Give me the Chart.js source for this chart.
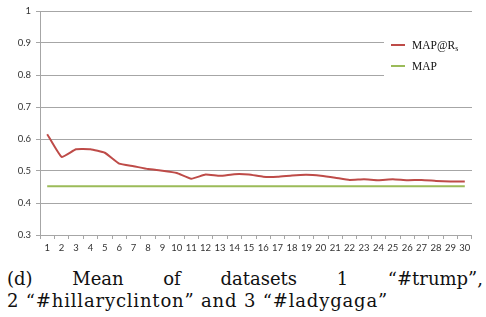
<!DOCTYPE html>
<html>
<head>
<meta charset="utf-8">
<script src="https://cdn.jsdelivr.net/npm/chart.js@4"></script>
<style>
  body { margin: 0; background: #fff; width: 486px; height: 317px; overflow: hidden; }
  #wrap { position: relative; width: 486px; height: 258px; }
  .caption { font-family: "DejaVu Serif", serif; font-size: 18px; color: #111; margin: 0 3px 0 7px; line-height: 22px; white-space: nowrap; }
  .l1 { text-align: justify; text-align-last: justify; margin-top: 10px; white-space: normal; }
  #l2 span { display: inline-block; }
</style>
</head>
<body>
<div id="wrap"><canvas id="grafico" width="486" height="258"></canvas></div>
<div class="caption l1">(d) Mean of datasets 1 “#trump”,</div>
<div class="caption" id="l2"><span id="l2txt">2 “#hillaryclinton” and 3 “#ladygaga”</span></div>
<script>
// Dados do gráfico
const rotulos = ['1','2','3','4','5','6','7','8','9','10','11','12','13','14','15','16','17','18','19','20','21','22','23','24','25','26','27','28','29','30'];
const mapRs = [0.615, 0.544, 0.568, 0.568, 0.557, 0.523, 0.515, 0.506, 0.501, 0.494,
               0.476, 0.489, 0.485, 0.490, 0.489, 0.482, 0.482, 0.486, 0.488, 0.485,
               0.479, 0.472, 0.474, 0.471, 0.474, 0.471, 0.472, 0.469, 0.467, 0.467];
const mapBase = [0.452, 0.452, 0.452, 0.452, 0.452, 0.452, 0.452, 0.452, 0.452, 0.452,
                 0.452, 0.452, 0.452, 0.452, 0.452, 0.452, 0.452, 0.452, 0.452, 0.452,
                 0.452, 0.452, 0.452, 0.452, 0.452, 0.452, 0.452, 0.452, 0.452, 0.452];
const yTicks = [0.3, 0.4, 0.5, 0.6, 0.7, 0.8, 0.9, 1];

const vermelho = '#BE4B48';
const verde = '#9BBB59';
const cinza = '#A6A6A6';

// Ajustar a segunda linha da legenda para a largura do original (~381px)
const l2 = document.getElementById('l2txt');
const larguraNatural = l2.getBoundingClientRect().width;
const nChars = l2.textContent.length;
l2.style.letterSpacing = ((381 - larguraNatural) / nChars) + 'px';

// Legenda desenhada à mão (precisa do subscrito em R_s)
const legendaPlugin = {
  id: 'legendaManual',
  afterDatasetsDraw(chart) {
    const ctx = chart.ctx;
    ctx.save();
    ctx.fillStyle = '#fff';
    ctx.fillRect(384, 30, 92, 54);
    const itens = [
      { cor: vermelho, y: 45, texto: 'MAP@R', sub: 's' },
      { cor: verde, y: 66, texto: 'MAP', sub: '' }
    ];
    itens.forEach(item => {
      ctx.strokeStyle = item.cor;
      ctx.lineWidth = 2;
      ctx.beginPath();
      ctx.moveTo(391, item.y);
      ctx.lineTo(405, item.y);
      ctx.stroke();
      ctx.fillStyle = '#111';
      ctx.font = '11.5px "Liberation Serif"';
      ctx.textBaseline = 'middle';
      ctx.fillText(item.texto, 412, item.y + 1);
      if (item.sub) {
        const w = ctx.measureText(item.texto).width;
        ctx.font = '8px "Liberation Serif"';
        ctx.fillText(item.sub, 412 + w, item.y + 4);
      }
    });
    ctx.restore();
  }
};

const ctx = document.getElementById('grafico').getContext('2d');
new Chart(ctx, {
  type: 'line',
  data: {
    labels: rotulos,
    datasets: [
      {
        label: 'MAP@Rs',
        data: mapRs,
        borderColor: vermelho,
        borderWidth: 2,
        pointRadius: 0,
        tension: 0.12,
        fill: false
      },
      {
        label: 'MAP',
        data: mapBase,
        borderColor: verde,
        borderWidth: 2,
        pointRadius: 0,
        tension: 0,
        fill: false
      }
    ]
  },
  options: {
    responsive: false,
    animation: false,
    layout: { padding: { top: 11, right: 14, left: 0, bottom: 0 } },
    plugins: {
      legend: { display: false },
      tooltip: { enabled: false }
    },
    scales: {
      x: {
        offset: true,
        grid: {
          offset: true,
          drawOnChartArea: false,
          drawTicks: true,
          tickLength: 4,
          color: cinza
        },
        border: { display: false },
        ticks: {
          color: '#333',
          font: { family: 'Lato', size: 9.5 },
          maxRotation: 0,
          autoSkip: false,
          padding: 3
        },
        afterFit(scale) { scale.height = 23; }
      },
      y: {
        min: 0.3,
        max: 1,
        afterBuildTicks(scale) { scale.ticks = yTicks.map(v => ({ value: v })); },
        grid: {
          color: cinza,
          tickLength: 4
        },
        border: { color: cinza },
        ticks: {
          color: '#333',
          font: { family: 'Lato', size: 9.5 },
          padding: 5,
          callback: v => String(Math.round(v * 10) / 10)
        },
        afterFit(scale) { scale.width = 40; }
      }
    }
  },
  plugins: [legendaPlugin]
});
</script>
</body>
</html>
